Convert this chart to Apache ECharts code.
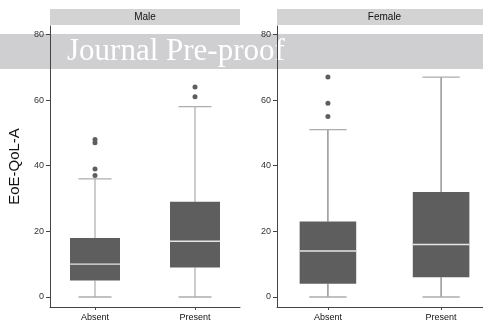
<!DOCTYPE html>
<html>
<head>
<meta charset="utf-8">
<script src="https://cdn.jsdelivr.net/npm/echarts@6/dist/echarts.min.js"></script>
<style>
  html, body { margin: 0; padding: 0; background: #fff; }
  #chart { width: 483px; height: 328px; }
</style>
</head>
<body>
<div id="chart"></div>
<script>
// Facets and categories
const panels = ['Male', 'Female'];
const categories = ['Absent', 'Present'];
const yTicks = [0, 20, 40, 60, 80];

// Box statistics per category: [min, Q1, median, Q3, max]
const maleBoxes = [
  [0, 5, 10, 18, 36],
  [0, 9, 17, 29, 58]
];
const femaleBoxes = [
  [0, 4, 14, 23, 51],
  [0, 6, 16, 32, 67]
];

// Outliers: [category position (1-based), value]
const maleOutliers = [[1, 37], [1, 39], [1, 47], [1, 48], [2, 61], [2, 64]];
const femaleOutliers = [[1, 55], [1, 59], [1, 67]];

const BOX_W = 0.5, CAP_W = 0.33;
const BOX_COLOR = '#5e5e5e';

function boxData(boxes) {
  return boxes.map((b, i) => [i + 1].concat(b));
}

function makeRenderer(whiskerColor) {
  return function (params, api) {
    const x = api.value(0);
    const lo = api.value(1), q1 = api.value(2), med = api.value(3), q3 = api.value(4), hi = api.value(5);
    const pL = api.coord([x - BOX_W / 2, q3]);
    const pR = api.coord([x + BOX_W / 2, q1]);
    const cL = api.coord([x - CAP_W / 2, lo])[0];
    const cR = api.coord([x + CAP_W / 2, lo])[0];
    const cx = api.coord([x, 0])[0];
    const yLo = api.coord([x, lo])[1], yQ1 = api.coord([x, q1])[1];
    const yMed = api.coord([x, med])[1], yQ3 = api.coord([x, q3])[1], yHi = api.coord([x, hi])[1];
    return {
      type: 'group',
      children: [
        { type: 'line', shape: { x1: cx, y1: yHi, x2: cx, y2: yQ3 }, style: { stroke: whiskerColor, lineWidth: 1.1 } },
        { type: 'line', shape: { x1: cx, y1: yQ1, x2: cx, y2: yLo }, style: { stroke: whiskerColor, lineWidth: 1.1 } },
        { type: 'line', shape: { x1: cL, y1: yHi, x2: cR, y2: yHi }, style: { stroke: '#adadad', lineWidth: 1.3 } },
        { type: 'line', shape: { x1: cL, y1: yLo, x2: cR, y2: yLo }, style: { stroke: '#adadad', lineWidth: 1.3 } },
        { type: 'rect', shape: { x: pL[0], y: pL[1], width: pR[0] - pL[0], height: pR[1] - pL[1] }, style: { fill: BOX_COLOR } },
        { type: 'line', shape: { x1: pL[0], y1: yMed, x2: pR[0], y2: yMed }, style: { stroke: '#e6e6e6', lineWidth: 1.4 } }
      ]
    };
  };
}

// The right panel runs past the canvas edge, so outer bounds are not enforced
const grids = [
  { left: 50, top: 26, width: 190, height: 281, outerBoundsMode: 'none' },
  { left: 277, top: 26, width: 215, height: 281, outerBoundsMode: 'none' }
];

const labelFont = { fontFamily: 'Liberation Sans, Arial, sans-serif', fontSize: 9, color: '#333' };

const xAxes = grids.map((g, i) => ({
  type: 'value', gridIndex: i, min: 0.55, max: 2.45,
  axisLine: { show: true, onZero: false, lineStyle: { color: '#444', width: 1 } },
  axisTick: { show: true, length: 3, customValues: [1, 2], lineStyle: { color: '#444' } },
  axisLabel: Object.assign({ customValues: [1, 2], margin: 6, formatter: v => categories[Math.round(v) - 1] || '' }, labelFont, { color: '#111' }),
  splitLine: { show: false }
}));

const yAxes = grids.map((g, i) => ({
  type: 'value', gridIndex: i, min: -3.05, max: 82.55,
  axisLine: { show: true, lineStyle: { color: '#444', width: 1 } },
  axisTick: { show: true, length: 4, customValues: yTicks, lineStyle: { color: '#444' } },
  axisLabel: Object.assign({ customValues: yTicks, margin: 6 }, labelFont),
  splitLine: { show: false },
  name: i === 0 ? 'EoE-QoL-A' : '',
  nameLocation: 'middle',
  nameGap: 28,
  nameTextStyle: { fontFamily: 'Liberation Sans, Arial, sans-serif', fontSize: 15, color: '#111' }
}));

const panelData = [
  { boxes: maleBoxes, outliers: maleOutliers, whisker: '#a3a3a3' },
  { boxes: femaleBoxes, outliers: femaleOutliers, whisker: '#707070' }
];

const series = [];
panelData.forEach((p, i) => {
  series.push({
    type: 'custom', xAxisIndex: i, yAxisIndex: i,
    renderItem: makeRenderer(p.whisker),
    data: boxData(p.boxes),
    encode: { x: 0, y: [1, 2, 3, 4, 5] },
    clip: false, silent: true
  });
  series.push({
    type: 'scatter', xAxisIndex: i, yAxisIndex: i,
    data: p.outliers, symbolSize: 5,
    itemStyle: { color: BOX_COLOR, opacity: 1 },
    silent: true
  });
});

// Facet strips and the header banner
const graphic = [];
panels.forEach((name, i) => {
  const w = grids[i].width;
  graphic.push({
    type: 'group', left: grids[i].left, top: 9, z: 10,
    children: [
      { type: 'rect', shape: { x: 0, y: 0, width: w, height: 16 }, style: { fill: '#d3d3d3' } },
      { type: 'text', x: w / 2, y: 8, style: { text: name, fill: '#111', font: '10px Liberation Sans, Arial, sans-serif', textAlign: 'center', textVerticalAlign: 'middle' } }
    ]
  });
});
graphic.push({
  type: 'group', left: 0, top: 34, z: 100,
  children: [
    { type: 'rect', shape: { x: 0, y: 0, width: 483, height: 35 }, style: { fill: '#cfcfd1' } },
    { type: 'text', x: 67, y: 18, style: { text: 'Journal Pre-proof', fill: '#ffffff', font: '31px Liberation Serif, Times New Roman, serif', textAlign: 'left', textVerticalAlign: 'middle' } }
  ]
});

const chart = echarts.init(document.getElementById('chart'), null, { renderer: 'canvas' });
chart.setOption({
  animation: false,
  backgroundColor: '#fff',
  grid: grids,
  xAxis: xAxes,
  yAxis: yAxes,
  series: series,
  graphic: graphic
});
</script>
</body>
</html>
